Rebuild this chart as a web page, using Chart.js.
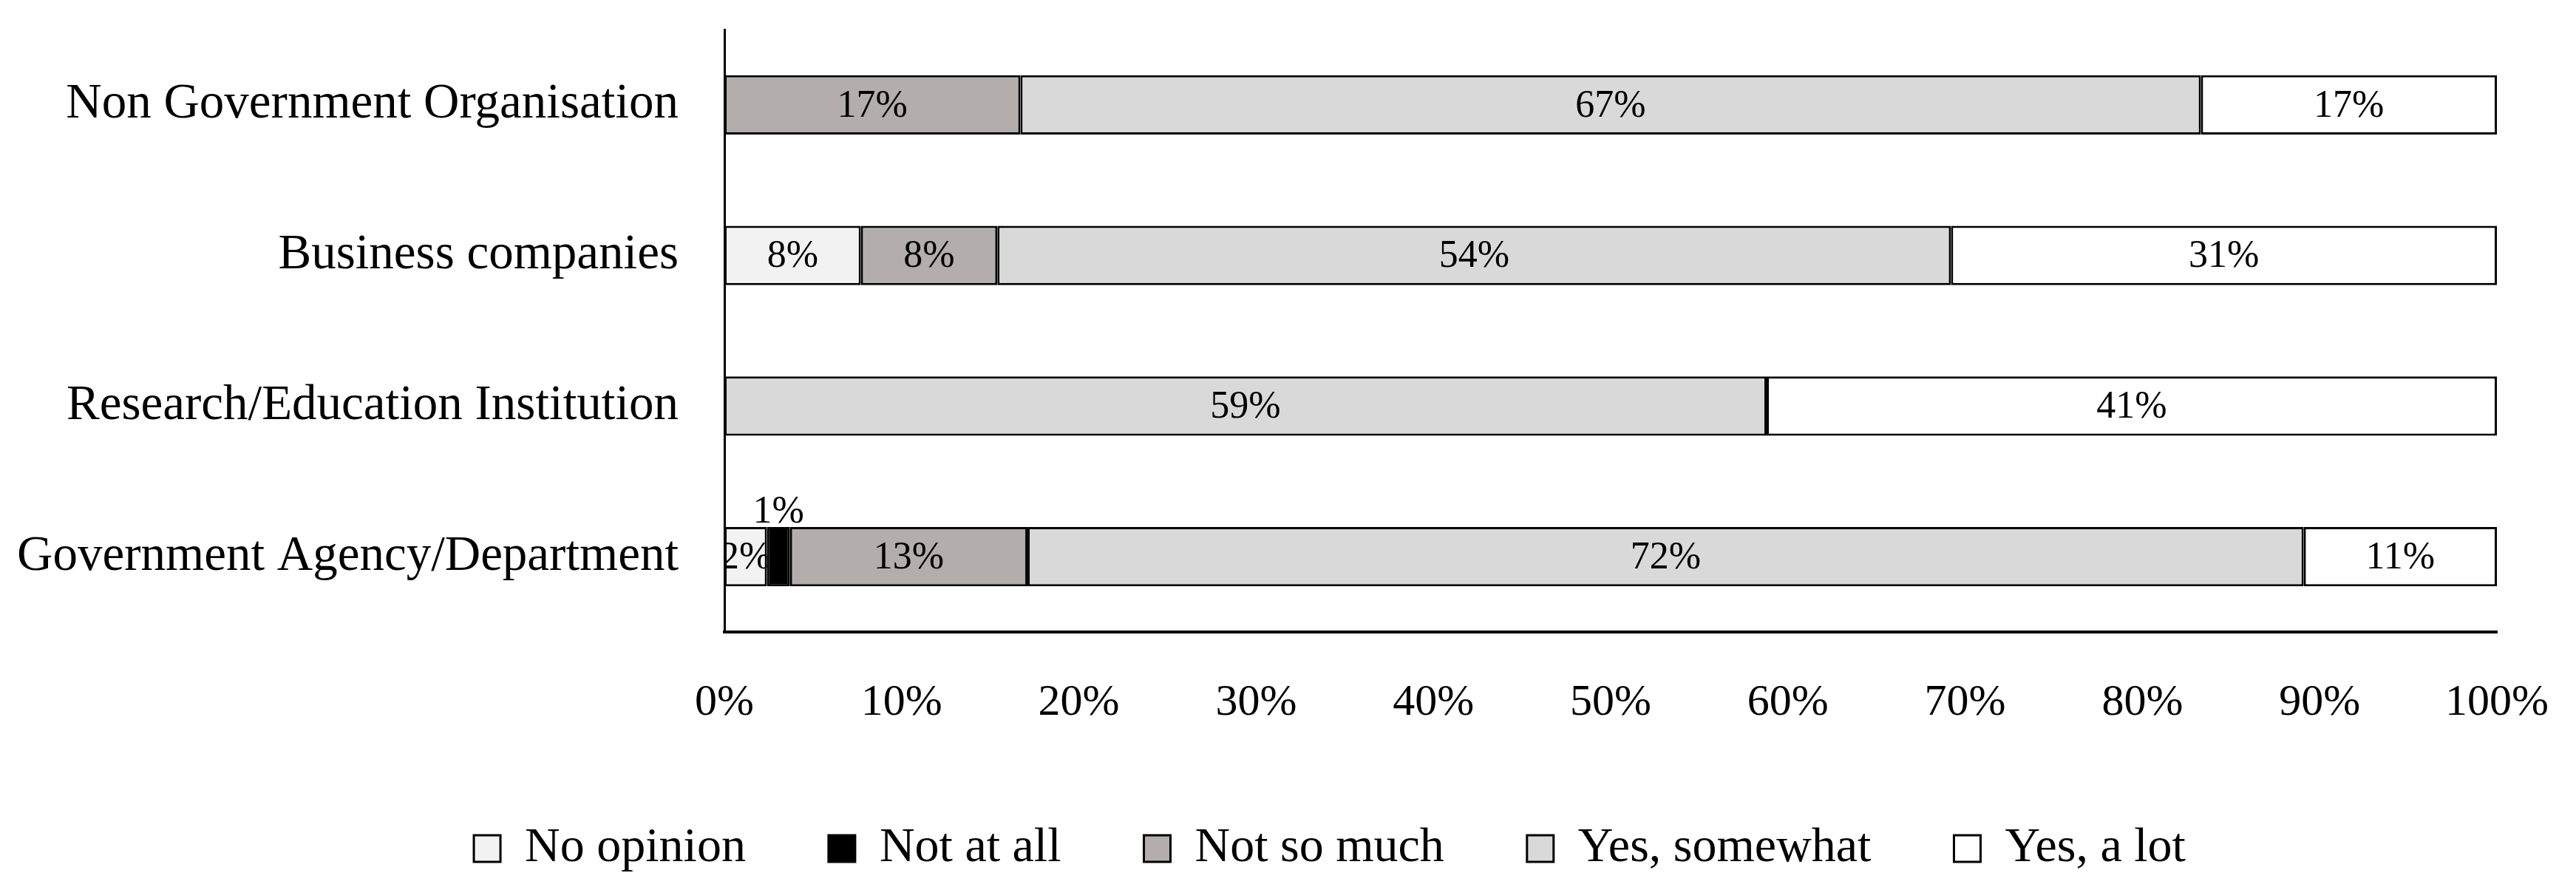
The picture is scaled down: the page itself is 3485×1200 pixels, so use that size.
<!DOCTYPE html>
<html>
<head>
<meta charset="utf-8">
<script src="https://cdn.jsdelivr.net/npm/chart.js@4.4.1/dist/chart.umd.min.js"></script>
<style>
  html, body { margin: 0; padding: 0; background: #fff; }
  #wrap { width: 3485px; height: 1200px; }
</style>
</head>
<body>
<div id="wrap"><canvas id="chart" width="3485" height="1200"></canvas></div>
<script>
// categories (top to bottom) and share of answers in %
const categories = [
    'Non Government Organisation',
    'Business companies',
    'Research/Education Institution',
    'Government Agency/Department',
];
const noOpinion   = [0,    7.7,  0,    2.4];
const notAtAll    = [0,    0,    0,    1.3];
const notSoMuch   = [16.7, 7.7,  0,    13.4];
const yesSomewhat = [66.6, 53.8, 58.8, 72.0];
const yesALot     = [16.7, 30.8, 41.2, 10.9];

const seriesNames = ['No opinion', 'Not at all', 'Not so much', 'Yes, somewhat', 'Yes, a lot'];
const seriesData = [noOpinion, notAtAll, notSoMuch, yesSomewhat, yesALot];
const seriesColors = ['#f2f2f2', '#000000', '#b3adac', '#d9d9d9', '#ffffff'];

const FONT = 'Liberation Serif';

// percentage labels on each segment; tiny segments get their label above the bar
const segmentLabels = {
    id: 'segmentLabels',
    afterLayout(chart) {
        // the legend in the original is centred a bit right of the page centre
        chart.legend.left += 110;
        chart.legend.right += 110;
    },
    afterDatasetsDraw(chart) {
        const ctx = chart.ctx;
        ctx.save();
        ctx.font = `52px "${FONT}"`;
        ctx.fillStyle = '#000';
        ctx.textAlign = 'center';
        chart.data.datasets.forEach((ds, i) => {
            const meta = chart.getDatasetMeta(i);
            meta.data.forEach((bar, j) => {
                const v = ds.data[j];
                if (!v) return;
                const text = Math.round(v) + '%';
                const left = Math.min(bar.x, bar.base);
                const w = Math.abs(bar.x - bar.base);
                const cx = left + w / 2;
                const top = bar.y - bar.height / 2;
                if (w < 40) {
                    ctx.textBaseline = 'alphabetic';
                    ctx.fillText(text, cx, top - 6);
                } else {
                    ctx.save();
                    ctx.beginPath();
                    ctx.rect(left, top, w, bar.height);
                    ctx.clip();
                    ctx.textBaseline = 'middle';
                    ctx.fillText(text, cx, bar.y + 2);
                    ctx.restore();
                }
            });
        });
        ctx.restore();
    }
};

const ctx = document.getElementById('chart').getContext('2d');
new Chart(ctx, {
    type: 'bar',
    data: {
        labels: categories,
        datasets: seriesNames.map((name, i) => ({
            label: name,
            data: seriesData[i],
            backgroundColor: seriesColors[i],
            borderColor: '#000',
            borderWidth: 3,
            borderSkipped: false,
            barPercentage: 0.394,
            categoryPercentage: 1,
        })),
    },
    options: {
        indexAxis: 'y',
        responsive: false,
        animation: false,
        devicePixelRatio: 1,
        layout: {
            padding: { top: 40, left: 0, right: 107, bottom: 9 },
        },
        scales: {
            x: {
                stacked: true,
                min: 0,
                max: 100,
                grid: { display: false, drawTicks: false },
                border: { display: true, color: '#000', width: 4 },
                ticks: {
                    stepSize: 10,
                    padding: 60,
                    color: '#000',
                    font: { family: FONT, size: 60 },
                    callback: v => v + '%',
                },
                afterFit: scale => {
                    scale.paddingLeft = 0;
                    scale.paddingRight = 0;
                    scale.height = 148;
                },
            },
            y: {
                stacked: true,
                grid: { display: false, drawTicks: false },
                border: { display: true, color: '#000', width: 3 },
                ticks: {
                    padding: 62,
                    color: '#000',
                    font: { family: FONT, size: 67 },
                },
                afterFit: scale => {
                    scale.width = 980;
                    scale.paddingTop = 0;
                    scale.paddingBottom = 0;
                },
            },
        },
        plugins: {
            legend: {
                position: 'bottom',
                labels: {
                    boxWidth: 36,
                    boxHeight: 36,
                    padding: 112,
                    color: '#000',
                    font: { family: FONT, size: 66 },
                },
            },
            tooltip: { enabled: false },
        },
    },
    plugins: [segmentLabels],
});
</script>
</body>
</html>
